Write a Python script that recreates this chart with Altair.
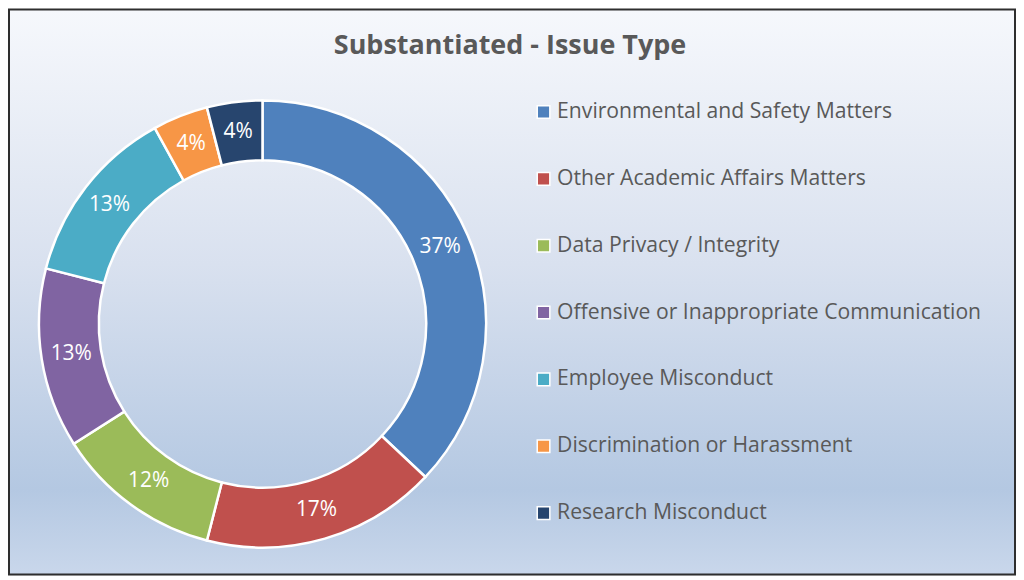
import altair as alt
import pandas as pd

categories = [
    "Environmental and Safety Matters",
    "Other Academic Affairs Matters",
    "Data Privacy / Integrity",
    "Offensive or Inappropriate Communication",
    "Employee Misconduct",
    "Discrimination or Harassment",
    "Research Misconduct",
]
values = [37, 17, 12, 13, 13, 4, 4]
colors = ["#4F81BD", "#C0504D", "#9BBB59", "#8064A2", "#4BACC6", "#F79646", "#27456E"]
title_text = "Substantiated - Issue Type"

df = pd.DataFrame({
    "cat": categories,
    "val": values,
    "ord": list(range(len(categories))),
    "lbl": [f"{v}%" for v in values],
})

FONT = "Open Sans"
W, H = 1008, 566
CX, CY = 254, 315

bg = alt.Chart(pd.DataFrame({"a": [0]})).mark_rect(
    fill=alt.Gradient(
        gradient="linear", x1=0, y1=0, x2=0, y2=1,
        stops=[
            alt.GradientStop(offset=0, color="#f6f8fc"),
            alt.GradientStop(offset=0.45, color="#d9e1ef"),
            alt.GradientStop(offset=0.85, color="#b4c8e2"),
            alt.GradientStop(offset=1, color="#c9d7eb"),
        ],
    ),
    stroke="#2e2e2e",
    strokeWidth=2,
).encode(x=alt.value(0), x2=alt.value(W), y=alt.value(0), y2=alt.value(H))

base = alt.Chart(df).encode(
    theta=alt.Theta("val:Q", stack=True),
    order=alt.Order("ord:Q"),
)

arcs = base.mark_arc(innerRadius=164, outerRadius=224, stroke="white", strokeWidth=2.5).encode(
    x=alt.value(CX),
    y=alt.value(CY),
    color=alt.Color(
        "cat:N",
        scale=alt.Scale(domain=categories, range=colors),
        sort=categories,
        legend=alt.Legend(
            title=None,
            orient="none",
            legendX=525,
            legendY=92,
            symbolType="square",
            symbolSize=160,
            symbolStrokeColor="white",
            symbolStrokeWidth=1.5,
            labelFont=FONT,
            labelFontSize=21.2,
            labelColor="#595959",
            labelOffset=3,
            rowPadding=45,
            labelLimit=700,
        ),
    ),
)

labels = base.mark_text(radius=194, font=FONT, fontSize=21, color="white").encode(
    x=alt.value(CX),
    y=alt.value(CY),
    text="lbl:N",
)

title = alt.Chart(pd.DataFrame({"t": [title_text]})).mark_text(
    font=FONT, fontSize=27, fontWeight="bold", color="#595959"
).encode(x=alt.value(502), y=alt.value(37), text="t:N")

chart = alt.layer(bg, arcs, labels, title).properties(
    width=W, height=H, padding=0,
).configure_view(stroke=None).configure(background="white")

chart.save("out.html", embed_options={"renderer": "svg", "actions": False})
